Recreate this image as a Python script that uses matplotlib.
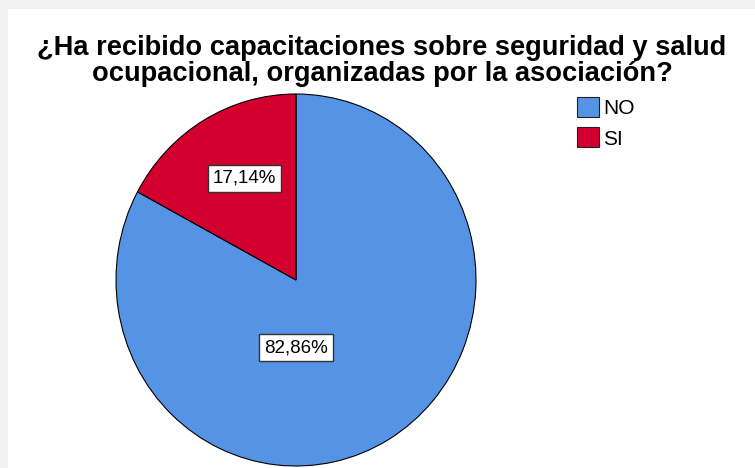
import matplotlib.pyplot as plt
from matplotlib.patches import Rectangle

# data
categories = ["NO", "SI"]
percentages = [82.86, 17.14]
colors = ["#5594E4", "#D3002F"]
title = "¿Ha recibido capacitaciones sobre seguridad y salud\nocupacional, organizadas por la asociación?"

W, H = 755, 468
fig = plt.figure(figsize=(W / 100, H / 100), dpi=100)
fig.patch.set_facecolor("#f2f2f2")

# white chart panel (slight gray frame top/left like the screenshot)
bg = fig.add_axes([8 / W, 0, 1 - 8 / W, (H - 9) / H], zorder=-10)
bg.set_facecolor("white")
bg.axis("off")
bg.add_patch(Rectangle((0, 0), 1, 1, transform=bg.transAxes, facecolor="white", edgecolor="none"))

fig.text(382 / W, 1 - 61 / H, title, ha="center", va="center", fontsize=19.6,
         weight="bold", family="Liberation Sans", linespacing=1.0)

# pie axes: ellipse spanning x 116-476, y 94-466 (pixels)
pad = 1.02
rx, ry = 180 * pad, 186 * pad
cx, cy = 296, 280
ax = fig.add_axes([(cx - rx) / W, 1 - (cy + ry) / H, 2 * rx / W, 2 * ry / H])
wedges, _ = ax.pie(percentages, colors=colors, startangle=90, counterclock=False,
                   wedgeprops=dict(edgecolor="black", linewidth=0.8))
ax.set_aspect("auto")
ax.set_xlim(-pad, pad)
ax.set_ylim(-pad, pad)
ax.axis("off")

# label positions (SPSS style), in pie units
label_pos = [(0.0, -0.365), (-0.286, 0.548)]
for (x, y), p in zip(label_pos, percentages):
    ax.text(x, y, f"{p:.2f}%".replace(".", ","), ha="center", va="center",
            fontsize=13.5, family="Liberation Sans",
            bbox=dict(boxstyle="square,pad=0.27", facecolor="white",
                      edgecolor="#333333", linewidth=1))

# legend
handles = [Rectangle((0, 0), 1, 1, facecolor=c, edgecolor="#222222", linewidth=0.8)
           for c in colors]
fig.legend(handles, categories, loc="upper left", bbox_to_anchor=(577 / W, 1 - 97 / H),
           frameon=False, prop=dict(family="Liberation Sans", size=15),
           handlelength=1.05, handleheight=1.1, handletextpad=0.2, labelspacing=0.45,
           borderaxespad=0, borderpad=0)

fig.savefig("out.png", dpi=100)
